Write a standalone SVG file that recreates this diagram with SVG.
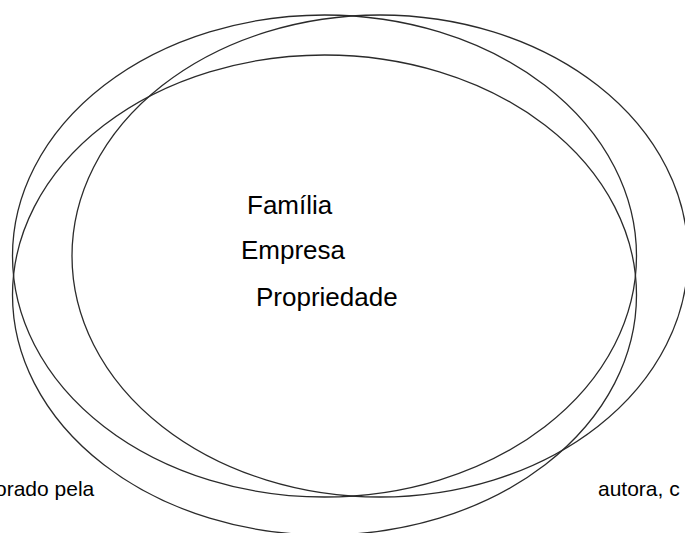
<svg xmlns="http://www.w3.org/2000/svg" width="685" height="533" viewBox="0 0 685 533">
  <style>
    .ring { fill: none; stroke: #2b2b2b; stroke-width: 1.3; }
    .lbl { font-family: "Liberation Sans", Arial, sans-serif; font-size: 26px; fill: #000; }
    .note { font-family: "Liberation Sans", Arial, sans-serif; font-size: 21px; fill: #000; }
  </style>
  <rect width="685" height="533" fill="#fff"/>
  <g id="familia">
    <ellipse class="ring" cx="324.5" cy="256" rx="312" ry="241"/>
    <text class="lbl" x="247" y="214">Família</text>
  </g>
  <g id="empresa">
    <ellipse class="ring" cx="380" cy="256" rx="308" ry="241"/>
    <text class="lbl" x="241" y="259">Empresa</text>
  </g>
  <g id="propriedade">
    <ellipse class="ring" cx="324.5" cy="295" rx="312" ry="240"/>
    <text class="lbl" x="256" y="306">Propriedade</text>
  </g>
  <g id="connectors"/>
  <text class="note" x="-5" y="496">orado pela</text>
  <text class="note" x="598" y="496">autora, c</text>
</svg>
